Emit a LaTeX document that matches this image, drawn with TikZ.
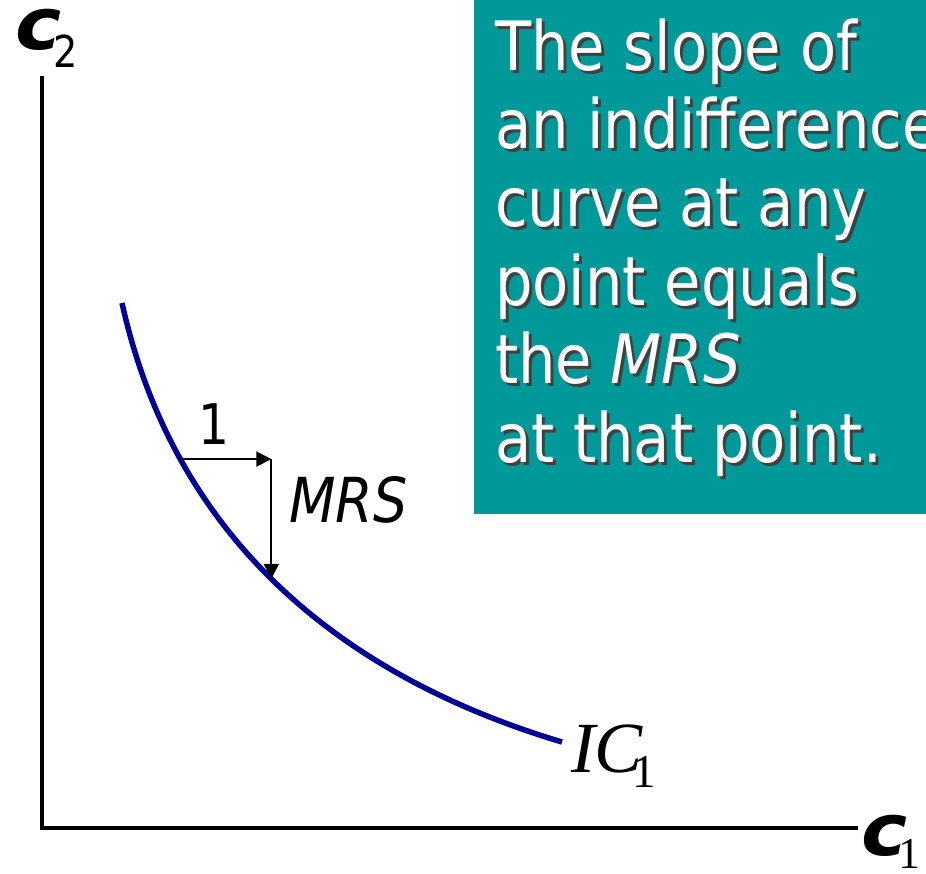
\documentclass[tikz,border=0pt]{standalone}
\usepackage{fontspec}
\usetikzlibrary{arrows.meta}
\newfontfamily\tahomaf[FakeStretch=0.87]{DejaVu Sans}
\newfontfamily\seriff{Liberation Serif}
\newfontfamily\cvarf[FakeStretch=1.08]{DejaVu Sans}
\definecolor{boxteal}{RGB}{0,153,153}
\definecolor{icblue}{RGB}{0,0,153}
\tikzset{
  axisline/.style={line width=3.2pt, black},
  icline/.style={line width=5.5pt, icblue},
  steparrow/.style={line width=2.2pt, black, -{Triangle[length=15pt,width=15pt]}},
  lbl/.style={inner sep=0pt, outer sep=0pt},
  notetext/.style={lbl, anchor=north west, align=left,
    font=\tahomaf\fontsize{68}{78.4}\selectfont},
}
\newcommand{\notebody}{The slope of\\an indifference\\curve at any\\point equals\\the \textit{MRS}\\at that point.}
\begin{document}
\begin{tikzpicture}[x=1pt,y=-1pt]
\useasboundingbox (0,0) rectangle (926,873);
% text box
\fill[boxteal] (474,0) rectangle (926,514);
\node[notetext, text=black!75] (noteshadow) at (498,21.5) {\notebody};
\node[notetext, text=white] (note) at (495,18.5) {\notebody};
% axes
\coordinate (ytop) at (42,76);
\coordinate (orig) at (42,828);
\coordinate (xend) at (858,828);
\draw[axisline] (ytop) -- (orig) -- (xend);
% axis labels
\node[lbl, anchor=base west] (c2) at (15,49)
  {\cvarf\bfseries\itshape\fontsize{72}{72}\selectfont c\kern-8pt\lower18pt\hbox{\tahomaf\mdseries\upshape\fontsize{44}{44}\selectfont 2}};
\node[lbl, anchor=base west] (c1) at (861,855)
  {\cvarf\bfseries\itshape\fontsize{72}{72}\selectfont c\kern-9pt\lower13pt\hbox{\seriff\mdseries\upshape\fontsize{44}{44}\selectfont 1}};
% indifference curve
\coordinate (icstart) at (122,303);
\coordinate (icend) at (562,742);
\draw[icline] (icstart) .. controls (173,533) and (334.5,674) .. (icend)
  coordinate[pos=0.25] (p) coordinate[pos=0.49] (r);
\node[lbl, anchor=base west] (ic) at (571,772)
  {\seriff\itshape\fontsize{72}{72}\selectfont IC\kern-11pt\lower15pt\hbox{\upshape\fontsize{47}{47}\selectfont 1}};
% slope step
\coordinate (q) at (r |- p);
\draw[steparrow] (p) -- (q);
\draw[steparrow] (q) -- (r);
\node[lbl, anchor=base] (one) at (214,444) {\tahomaf\fontsize{56}{56}\selectfont 1};
\node[lbl, anchor=base west] (mrs) at (289,522) {\tahomaf\itshape\fontsize{62}{62}\selectfont MRS};
\end{tikzpicture}
\end{document}
